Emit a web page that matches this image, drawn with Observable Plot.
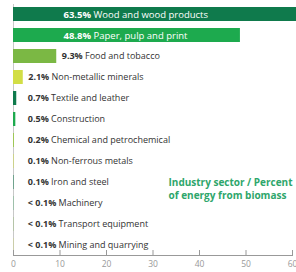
<!DOCTYPE html>
<html><head><meta charset="utf-8">
<script src="https://cdn.jsdelivr.net/npm/d3@7"></script>
<script src="https://cdn.jsdelivr.net/npm/@observablehq/plot@0.6"></script>
<style>body{margin:0;background:#fff} #chart{width:296px;height:272px;overflow:hidden}</style>
</head><body><div id="chart"></div>
<script>
const sectors = ["Wood and wood products","Paper, pulp and print","Food and tobacco","Non-metallic minerals","Textile and leather","Construction","Chemical and petrochemical","Non-ferrous metals","Iron and steel","Machinery","Transport equipment","Mining and quarrying"];
const values = [63.5,48.8,9.3,2.1,0.7,0.5,0.2,0.1,0.1,0.05,0.05,0.05];
const percentLabels = ["63.5%","48.8%","9.3%","2.1%","0.7%","0.5%","0.2%","0.1%","0.1%","< 0.1%","< 0.1%","< 0.1%"];
const xTicks = [0,10,20,30,40,50,60];
const titleLines = ["Industry sector / Percent","of energy from biomass"];
const barColors = ["#0f7a4c","#1daa4e","#7bb844","#d2de45","#0f7a4c","#1daa4e","#9cc84e","#d2de45","#0f7a4c","#1daa4e","#7bb844","#d2de45"];

const rows = sectors.map((s,i)=>({sector:s, value:values[i], pct:percentLabels[i], inside: values[i] > 40}));

const chart = Plot.plot({
  width: 296, height: 272,
  marginLeft: 13, marginRight: 4, marginTop: 4, marginBottom: 17,
  style: {fontFamily: "Open Sans", fontSize: "9px", background: "#fff"},
  x: {domain: [0, 60], label: null},
  y: {domain: sectors, axis: null, paddingInner: 0.35, paddingOuter: 0},
  color: {domain: sectors, range: barColors},
  marks: [
    Plot.ruleX([0], {stroke: "#c8c8c8"}),
    Plot.barX(rows, {x: "value", y: "sector", fill: "sector"}),
    Plot.text(rows.filter(d => d.inside), {x: 0, y: "sector", text: d => d.pct + " " + d.sector, dx: 50, textAnchor: "start", fill: "#fff", fontSize: 9.5}),
    Plot.text(rows.filter(d => !d.inside), {x: d => Math.max(d.value, 2), y: "sector", text: d => d.pct + " " + d.sector, dx: 5, textAnchor: "start", fill: "#333", fontSize: 9}),
    Plot.frame({anchor: "bottom", stroke: "#999"}),
    Plot.ruleX(xTicks, {x: d => d, insetTop: 246, stroke: "#999"}),
    Plot.axisX({ticks: xTicks, tickSize: 0, tickPadding: 5, fill: "#999", label: null, fontSize: 8.5}),
    Plot.text([titleLines.join("\n")], {frameAnchor: "top-left", dx: 155, dy: 172, lineAnchor: "top", textAnchor: "start", fill: "#2ea66b", fontWeight: "bold", fontSize: 10, lineHeight: 1.3})
  ]
});
// bold percentage part of each label
d3.select(chart).selectAll("text").each(function() {
  const t = this.textContent;
  const m = t.match(/^((?:<\s)?[\d.]+%)\s(.+)$/);
  if (m && this.childElementCount === 0) {
    const sel = d3.select(this);
    sel.text(null);
    sel.append("tspan").attr("font-weight", "bold").text(m[1]);
    sel.append("tspan").text(" " + m[2]);
  }
});
document.getElementById("chart").appendChild(chart);
</script>
</body></html>
